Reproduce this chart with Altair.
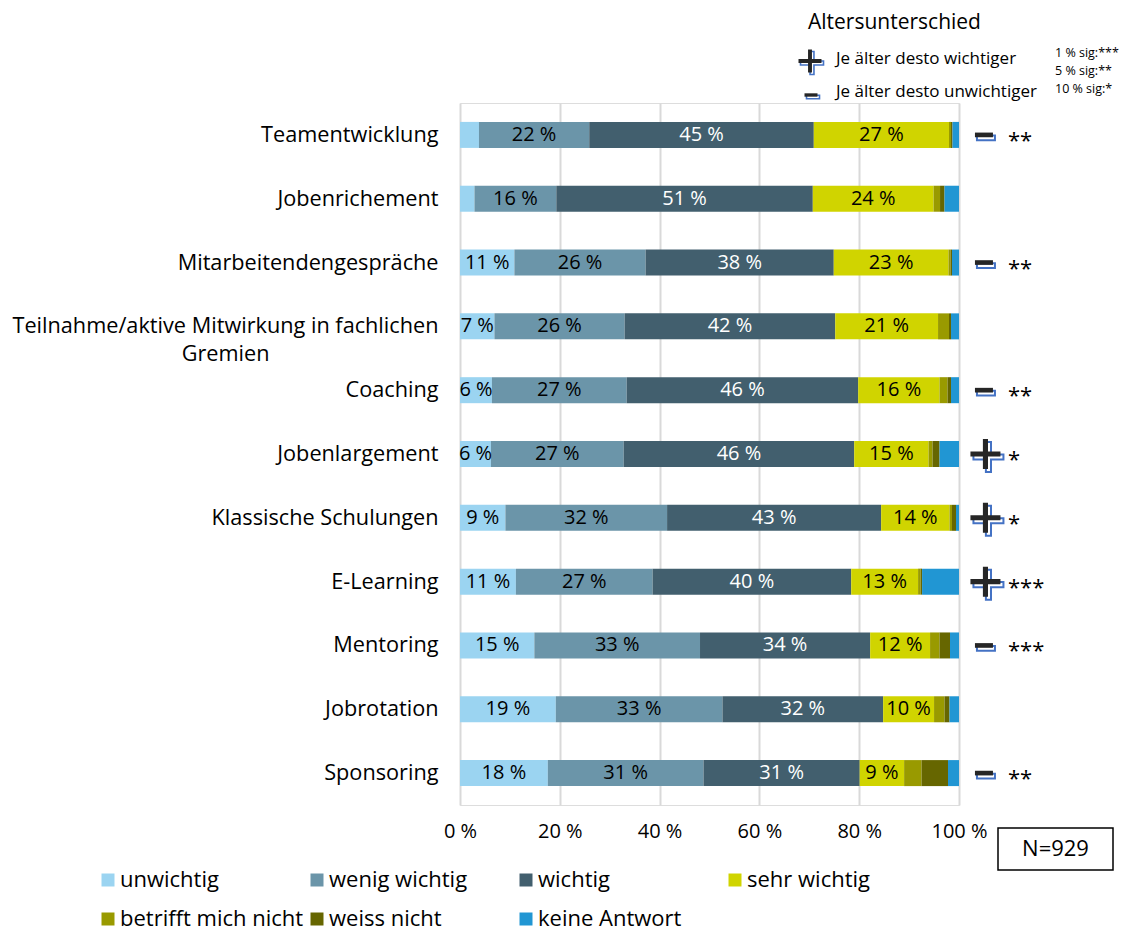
import altair as alt
import pandas as pd

FONT = "Open Sans"

items = [
    "Teamentwicklung",
    "Jobenrichement",
    "Mitarbeitendengespräche",
    "Teilnahme/aktive Mitwirkung in fachlichen Gremien",
    "Coaching",
    "Jobenlargement",
    "Klassische Schulungen",
    "E-Learning",
    "Mentoring",
    "Jobrotation",
    "Sponsoring",
]

cats = ["unwichtig", "wenig wichtig", "wichtig", "sehr wichtig",
        "betrifft mich nicht", "weiss nicht", "keine Antwort"]
colors = ["#9BD4F1", "#6B95A9", "#425F6E", "#D0D400", "#999A00", "#666600", "#2196D3"]

unwichtig = [3.8, 2.9, 10.9, 6.9, 6.4, 6.2, 9.1, 11.2, 14.9, 19.2, 17.6]
wenig_wichtig = [22.1, 16.4, 26.3, 26.1, 27.0, 26.6, 32.4, 27.4, 33.2, 33.4, 31.2]
wichtig = [45.0, 51.4, 37.7, 42.2, 46.4, 46.2, 42.9, 39.8, 34.1, 32.2, 31.3]
sehr_wichtig = [27.1, 24.2, 23.0, 20.6, 16.3, 14.9, 13.7, 13.4, 12.0, 10.2, 8.9]
betrifft_nicht = [0.4, 1.3, 0.4, 2.2, 1.6, 0.8, 0.5, 0.5, 1.9, 2.1, 3.5]
weiss_nicht = [0.3, 0.9, 0.3, 0.4, 0.7, 1.4, 0.8, 0.3, 2.1, 1.0, 5.3]
keine_antwort = [1.3, 2.9, 1.4, 1.6, 1.6, 3.9, 0.6, 7.4, 1.8, 1.9, 2.2]

age_dir = ["-", "", "-", "", "-", "+", "+", "+", "-", "", "-"]
age_sig = ["**", "", "**", "", "**", "*", "*", "***", "***", "", "**"]

n_total = 929

series = [unwichtig, wenig_wichtig, wichtig, sehr_wichtig,
          betrifft_nicht, weiss_nicht, keine_antwort]

rows = []
for ci, (cat, vals) in enumerate(zip(cats, series)):
    for ii, item in enumerate(items):
        rows.append({"item": item, "cat": cat, "order": ci, "value": vals[ii]})
df = pd.DataFrame(rows)

df_side = pd.DataFrame({"item": items, "dir": age_dir, "sig": age_sig})

PLUS = "M-0.17,-1H0.17V-0.17H1V0.17H0.17V1H-0.17V0.17H-1V-0.17H-0.17Z"
MINUS = "M-1,-0.26H1V0.26H-1Z"
DARK = "#262626"
BLUE = "#4472C4"

# non-breaking spaces + zero-width space keep "Gremien" centred under line 1
pad = "\u00a0" * 30 + "\u200b"
teil = "Teilnahme/aktive Mitwirkung in fachlichen Gremien"
label_expr = (f"datum.label == '{teil}' ? "
              f"['Teilnahme/aktive Mitwirkung in fachlichen', 'Gremien{pad}'] : datum.label")

y_enc = alt.Y("item:N", sort=items, title=None,
              scale=alt.Scale(paddingInner=0, paddingOuter=0),
              axis=alt.Axis(domain=False, ticks=False, labelFontSize=21.7, labelFont=FONT,
                            labelColor="#000000", labelPadding=22, labelLimit=600,
                            labelExpr=label_expr, labelLineHeight=28))

base = alt.Chart(df).transform_stack(
    stack="value", groupby=["item"], as_=["x0", "x1"],
    sort=[alt.SortField("order", "ascending")]
).transform_calculate(
    mid="(datum.x0 + datum.x1) / 2",
    lab="format(datum.value, '.0f') + ' %'"
)

bars = base.mark_bar(size=26).encode(
    x=alt.X("x0:Q", title=None, scale=alt.Scale(domain=[0, 100]),
            axis=alt.Axis(values=[0, 20, 40, 60, 80, 100], labelExpr="datum.value + ' %'",
                          grid=True, gridColor="#d9d9d9", gridWidth=2, domain=False,
                          ticks=False, tickSize=0, labelFontSize=20, labelFont=FONT,
                          labelColor="#000000", labelPadding=16, labelFlush=False)),
    x2="x1:Q",
    y=y_enc,
    color=alt.Color("cat:N", scale=alt.Scale(domain=cats, range=colors),
                    legend=alt.Legend(orient="none", legendX=-363, legendY=766,
                                      direction="horizontal", columns=4, title=None,
                                      symbolType="square", symbolSize=169,
                                      symbolStrokeWidth=0, symbolOpacity=1,
                                      labelFontSize=22, labelFont=FONT, labelColor="#000000",
                                      labelOffset=1, columnPadding=2, rowPadding=17,
                                      gridAlign="all", labelLimit=400, padding=0)),
)

labels = base.transform_filter("datum.order < 4 && datum.value >= 5").mark_text(
    fontSize=20, font=FONT, baseline="middle", align="center"
).encode(
    x="mid:Q",
    y=alt.Y("item:N", sort=items),
    text="lab:N",
    color=alt.condition(alt.datum.cat == "wichtig", alt.value("#ffffff"), alt.value("#000000")),
)

side = alt.Chart(df_side)
plus_blue = side.transform_filter("datum.dir == '+'").mark_point(
    shape=PLUS, filled=False, stroke=BLUE, strokeWidth=2, size=900, opacity=1,
    xOffset=3, yOffset=3
).encode(x=alt.datum(105.3), y=alt.Y("item:N", sort=items))
plus_dark = side.transform_filter("datum.dir == '+'").mark_point(
    shape=PLUS, filled=True, fill=DARK, strokeWidth=0, size=900, opacity=1
).encode(x=alt.datum(105.3), y=alt.Y("item:N", sort=items))
minus_blue = side.transform_filter("datum.dir == '-'").mark_point(
    shape=MINUS, filled=False, stroke=BLUE, strokeWidth=2, size=324, opacity=1,
    xOffset=2, yOffset=3
).encode(x=alt.datum(105.0), y=alt.Y("item:N", sort=items))
minus_dark = side.transform_filter("datum.dir == '-'").mark_point(
    shape=MINUS, filled=True, fill=DARK, strokeWidth=0, size=324, opacity=1
).encode(x=alt.datum(105.0), y=alt.Y("item:N", sort=items))
stars = side.transform_filter("datum.sig != ''").mark_text(
    fontSize=22, font=FONT, align="left", baseline="middle", dy=6, color="#000000"
).encode(x=alt.datum(109.8), y=alt.Y("item:N", sort=items), text="sig:N")

one = alt.Chart(pd.DataFrame({"n": [n_total]}))
nbox = one.mark_rect(fill="white", stroke="#000000", strokeWidth=1.5).encode(
    x=alt.value(538), x2=alt.value(653), y=alt.value(725), y2=alt.value(767))
ntext = one.transform_calculate(t="'N=' + datum.n").mark_text(
    fontSize=22, font=FONT, align="center", baseline="middle", color="#000000"
).encode(x=alt.value(595.5), y=alt.value(746), text="t:N")


def txt(s, x, y, size, align="left"):
    return one.mark_text(text=s, fontSize=size, font=FONT, align=align,
                         baseline="middle", color="#000000").encode(
        x=alt.value(x), y=alt.value(y))


def sym(shape, x, y, size, blue, dx=2, dy=2):
    if blue:
        return one.mark_point(shape=shape, filled=False, stroke=BLUE, strokeWidth=1.6,
                              size=size, opacity=1, xOffset=dx, yOffset=dy).encode(
            x=alt.value(x), y=alt.value(y))
    return one.mark_point(shape=shape, filled=True, fill=DARK, strokeWidth=0,
                          size=size, opacity=1).encode(x=alt.value(x), y=alt.value(y))


anno = [
    txt("Altersunterschied", 348, -80, 21),
    sym(PLUS, 350, -42, 529, True), sym(PLUS, 350, -42, 529, False),
    txt("Je älter desto wichtiger", 376, -44, 17),
    sym(MINUS, 351, -8, 169, True, 2, 2), sym(MINUS, 351, -8, 169, False),
    txt("Je älter desto unwichtiger", 376, -11, 17),
    txt("1 % sig:***", 595, -50, 12.5),
    txt("5 % sig:**", 595, -32, 12.5),
    txt("10 % sig:*", 595, -14, 12.5),
]

chart = alt.layer(
    bars, labels, plus_blue, plus_dark, minus_blue, minus_dark, stars, nbox, ntext, *anno
).properties(
    width=499, height=702,
    autosize=alt.AutoSizeParams(type="none"),
    padding={"left": 452, "top": 95, "right": 162, "bottom": 127},
).configure_view(stroke=None).configure(font=FONT, background="white")

chart.save("out.html", embed_options={"renderer": "svg", "actions": False})
